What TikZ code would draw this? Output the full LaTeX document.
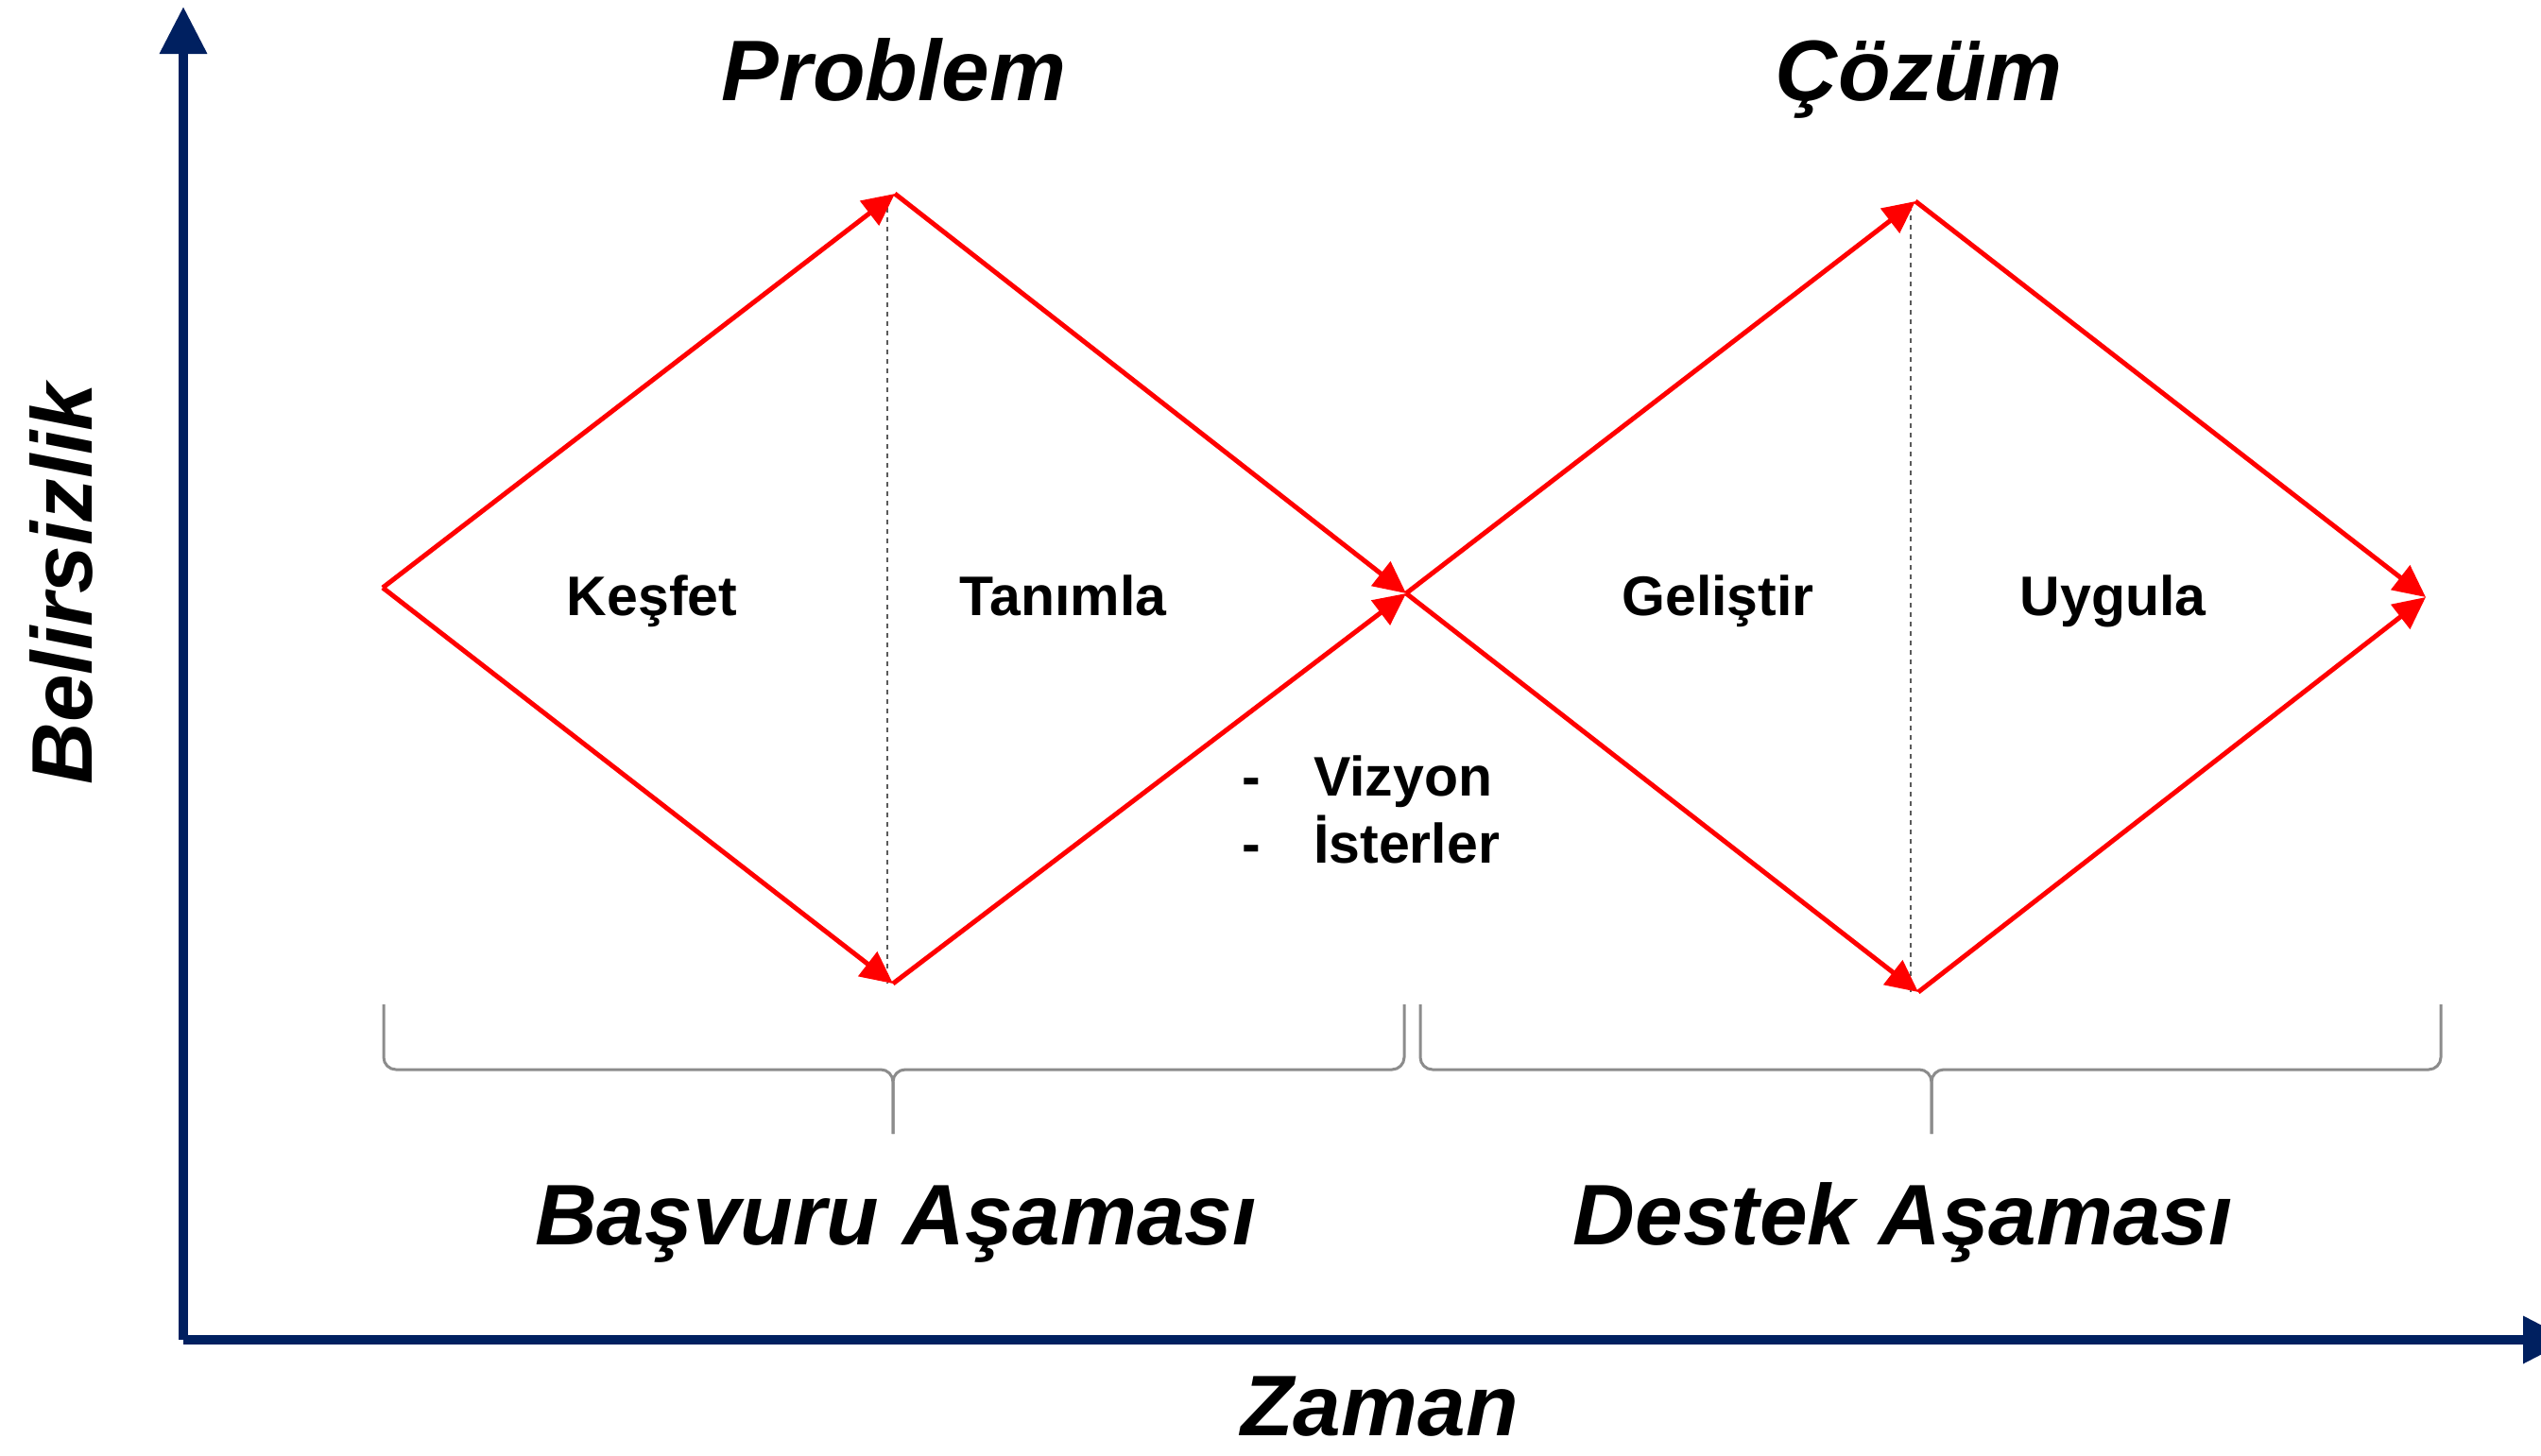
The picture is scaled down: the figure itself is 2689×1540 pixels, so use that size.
\documentclass[tikz,border=0pt]{standalone}
\usepackage{fontspec}
\setmainfont{Liberation Sans}
\usetikzlibrary{arrows.meta}
\definecolor{navy}{HTML}{002060}
\definecolor{bracegray}{HTML}{8C8C8C}
\definecolor{dotgray}{HTML}{5A5A5A}
\tikzset{
  axisline/.style={draw=navy, line width=10pt, -{Triangle[length=50pt,width=48pt]}},
  flow/.style={draw=red, line width=5pt, -{Triangle[length=34pt,width=32pt]}},
  divider/.style={draw=dotgray, line width=2.5pt, dash pattern=on 5pt off 5pt},
  bracestyle/.style={draw=bracegray, line width=3pt, rounded corners=13pt},
  heading/.style={font=\fontsize{91}{100}\selectfont\bfseries\itshape, inner sep=0pt},
  lbl/.style={font=\fontsize{59}{70}\selectfont\bfseries, inner sep=0pt},
}
\begin{document}
\begin{tikzpicture}[x=1pt,y=-1pt]
\useasboundingbox (0,0) rectangle (2689,1540);
\clip (0,0) rectangle (2689,1540);
% axes
\coordinate (origin) at (194,1418);
\coordinate (ytip) at (194,7);
\coordinate (xtip) at (2720,1418);
\draw[axisline] (origin) -- (ytip);
\draw[axisline] (origin) -- (xtip);
% diamond vertices
\coordinate (L1) at (405,622);
\coordinate (T1) at (947,205);
\coordinate (B1) at (945,1041);
\coordinate (M) at (1488,628);
\coordinate (T2) at (2027,213);
\coordinate (B2) at (2030,1050);
\coordinate (R2) at (2567,632);
% dotted dividers
\coordinate (D1a) at (939,210);
\coordinate (D1b) at (939,1041);
\coordinate (D2a) at (2022,218);
\coordinate (D2b) at (2022,1050);
\draw[divider] (D1a) -- (D1b);
\draw[divider] (D2a) -- (D2b);
% red flows
\draw[flow] (L1) -- (T1);
\draw[flow] (L1) -- (B1);
\draw[flow] (T1) -- (M);
\draw[flow] (B1) -- (M);
\draw[flow] (M) -- (T2);
\draw[flow] (M) -- (B2);
\draw[flow] (T2) -- (R2);
\draw[flow] (B2) -- (R2);
% braces
\draw[bracestyle] (406,1063) -- (406,1132) -- (945,1132) -- (945,1200);
\draw[bracestyle] (1486,1063) -- (1486,1132) -- (945,1132) -- (945,1200);
\draw[bracestyle] (1503,1063) -- (1503,1132) -- (2044,1132) -- (2044,1200);
\draw[bracestyle] (2583,1063) -- (2583,1132) -- (2044,1132) -- (2044,1200);
% texts
\node[heading, anchor=base] (problem) at (946,106) {Problem};
\node[heading, anchor=base] (cozum) at (2031,106) {Çözüm};
\node[lbl, anchor=base] (kesfet) at (690,651) {Keşfet};
\node[lbl, anchor=base] (tanimla) at (1125,651) {Tanımla};
\node[lbl, anchor=base] (gelistir) at (1818,651) {Geliştir};
\node[lbl, anchor=base] (uygula) at (2236,651) {Uygula};
\node[lbl, anchor=base west] (dash1) at (1314,842) {-};
\node[lbl, anchor=base west] (vizyon) at (1390,842) {Vizyon};
\node[lbl, anchor=base west] (dash2) at (1314,913) {-};
\node[lbl, anchor=base west] (isterler) at (1390,913) {İsterler};
\node[heading, anchor=base] (basvuru) at (948,1317) {Başvuru Aşaması};
\node[heading, anchor=base] (destek) at (2014,1317) {Destek Aşaması};
\node[heading, anchor=base] (zaman) at (1460,1519) {Zaman};
\node[heading, anchor=base, rotate=90] (belirsizlik) at (97,618) {Belirsizlik};
\end{tikzpicture}
\end{document}
